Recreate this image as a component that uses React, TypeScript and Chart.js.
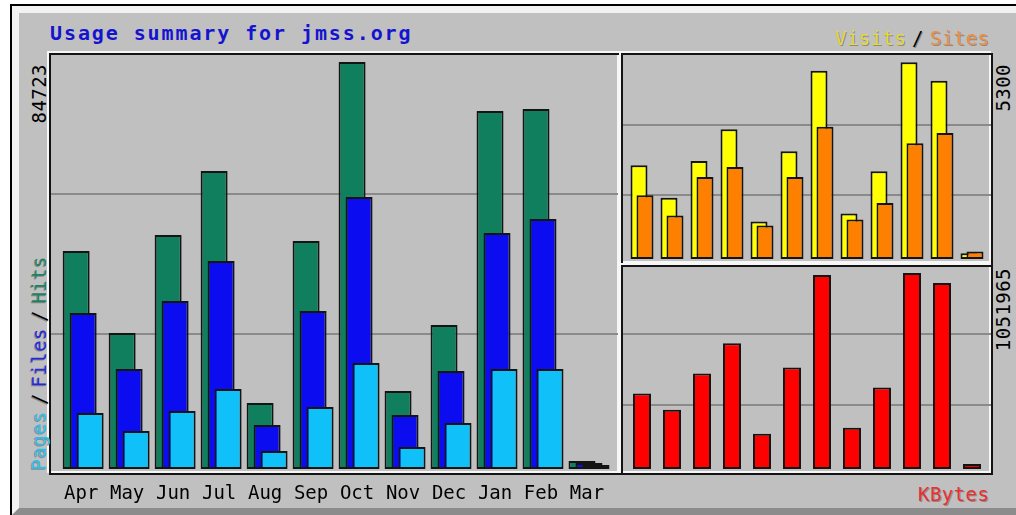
import React, { useEffect, useRef } from "react";
import { Chart, registerables } from "chart.js";
Chart.register(...registerables);

const MONTHS = ["Apr", "May", "Jun", "Jul", "Aug", "Sep", "Oct", "Nov", "Dec", "Jan", "Feb", "Mar"];
const HITS = [45480, 28450, 48800, 62090, 13910, 47550, 84723, 16400, 30110, 74550, 74960, 1870];
const FILES = [32600, 20970, 35090, 43400, 9350, 33020, 56690, 11420, 20560, 49220, 52120, 1450];
const PAGES = [11840, 8100, 12250, 16820, 3950, 13080, 22220, 4780, 9760, 20970, 20970, 1040];
const VISITS = [2540, 1672, 2656, 3508, 1035, 2916, 5075, 1250, 2379, 5300, 4806, 183];
const SITES = [1734, 1196, 2226, 2494, 927, 2226, 3570, 1089, 1527, 3132, 3408, 228];
const KBYTES = [407900, 322000, 515240, 676250, 193200, 547440, 1041230, 225420, 440100, 1051965, 998280, 32200];

const TITLE = "Usage summary for jmss.org";
const HITS_MAX_LABEL = "84723";
const VISITS_MAX_LABEL = "5300";
const KBYTES_MAX_LABEL = "1051965";

const LEFT_MAX = 86177;
const TOP_MAX = 5496;
const BOTTOM_MAX = 1084000;

const MONO = "'DejaVu Sans Mono', monospace";
const GRID = "#8a8a8a";
const EDGE = "#141414";
const SHADOW = "#8a8a8a";

function yScale(max: number, gridFractions: number[]) {
  return {
    type: "linear",
    min: 0,
    max,
    afterBuildTicks: (s: any) => {
      s.ticks = [0, ...gridFractions, 1].map((f) => ({ value: max * f }));
    },
    ticks: { display: false },
    grid: {
      drawTicks: false,
      lineWidth: 2,
      color: (c: any) =>
        c.index === 0 || c.index === gridFractions.length + 1 ? "rgba(0,0,0,0)" : GRID,
    },
    border: { display: false },
    afterFit: (s: any) => {
      s.width = 0;
    },
  };
}

function bars(values: number[], shift: number, color: string, thickness: number) {
  return {
    data: values.map((v, i) => ({ x: i + shift, y: v })),
    backgroundColor: color,
    borderColor: EDGE,
    borderWidth: 2,
    borderSkipped: false,
    barThickness: thickness,
    grouped: false,
    inflateAmount: 0,
  };
}

const baseOptions = {
  responsive: false,
  animation: false,
  events: [],
  layout: { padding: 0 },
  plugins: { legend: { display: false }, tooltip: { enabled: false }, title: { display: false } },
};

const leftConfig = () => ({
  type: "bar",
  data: {
    datasets: [
      bars(PAGES, 14 / 46, "#10c0f8", 27),
      bars(FILES, 7 / 46, "#0c0cf0", 27),
      bars(HITS, 0, "#107f5d", 27),
    ],
  },
  options: {
    ...baseOptions,
    scales: {
      x: {
        type: "linear",
        min: -25 / 46,
        max: -25 / 46 + 567 / 46,
        offset: false,
        grid: { display: false, drawTicks: false },
        border: { display: false },
        afterBuildTicks: (s: any) => {
          s.ticks = MONTHS.map((_, i) => ({ value: i + 5 / 46 }));
        },
        ticks: {
          autoSkip: false,
          maxRotation: 0,
          minRotation: 0,
          color: "#000",
          padding: 13,
          font: { family: MONO, size: 19 },
          callback: (_v: any, i: number) => MONTHS[i],
        },
        afterFit: (s: any) => {
          s.height = 38;
        },
      },
      y: yScale(LEFT_MAX, [0.3277, 0.665]),
    },
  },
});

const rightX = {
  type: "linear",
  display: false,
  min: -16 / 30,
  max: -16 / 30 + 368 / 30,
  offset: false,
};

const topConfig = () => ({
  type: "bar",
  data: {
    datasets: [bars(SITES, 6 / 30, "#ff8000", 17), bars(VISITS, 0, "#ffff00", 17)],
  },
  options: { ...baseOptions, scales: { x: rightX, y: yScale(TOP_MAX, [0.317, 0.6585]) } },
});

const bottomConfig = () => ({
  type: "bar",
  data: { datasets: [bars(KBYTES, 3 / 30, "#ff0000", 18)] },
  options: { ...baseOptions, scales: { x: rightX, y: yScale(BOTTOM_MAX, [0.32, 0.67]) } },
});

function ChartCanvas({ left, top, width, height, make }: any) {
  const ref = useRef<HTMLCanvasElement>(null);
  useEffect(() => {
    const chart = new Chart(ref.current as HTMLCanvasElement, make());
    return () => chart.destroy();
  }, []);
  return (
    <canvas
      ref={ref}
      width={width}
      height={height}
      style={{ position: "absolute", left, top, width, height }}
    />
  );
}

function Box({ x1, y1, x2, y2 }: any) {
  return (
    <>
      <div
        style={{
          position: "absolute",
          left: x1 - 2,
          top: y1 - 2,
          width: x2 - x1,
          height: y2 - y1,
          border: "2px solid #f6f6f6",
          boxSizing: "border-box",
        }}
      />
      <div
        style={{
          position: "absolute",
          left: x1,
          top: y1,
          width: x2 - x1,
          height: y2 - y1,
          border: `2px solid ${EDGE}`,
          boxSizing: "border-box",
        }}
      />
    </>
  );
}

const textBase: any = {
  position: "absolute",
  fontFamily: MONO,
  fontSize: 19,
  lineHeight: "19px",
  letterSpacing: "0.45px",
  whiteSpace: "nowrap",
  textShadow: `1px 1px 0 ${SHADOW}`,
};

const vertical: any = {
  ...textBase,
  writingMode: "vertical-rl",
  transform: "rotate(180deg)",
  textShadow: `-1px -1px 0 ${SHADOW}`,
};

const plainVertical: any = { ...vertical, textShadow: "none" };

export default function App() {
  return (
    <div
      style={{
        position: "absolute",
        left: 0,
        top: 0,
        width: 1016,
        height: 515,
        overflow: "hidden",
        background: "#ffffff",
      }}
    >
      <div
        style={{
          position: "absolute",
          left: 10,
          top: 4,
          width: 1100,
          height: 600,
          borderTop: "2px solid #000",
          borderLeft: "2px solid #000",
          background: "#c0c0c0",
        }}
      />
      <div
        style={{
          position: "absolute",
          left: 12,
          top: 6,
          width: 1100,
          height: 509,
          boxSizing: "border-box",
          borderTop: "7px solid #f2f2f2",
          borderLeft: "7px solid #f2f2f2",
          borderBottom: "7px solid #8c8c8c",
        }}
      />

      <Box x1={49} y1={53} x2={621} y2={475} />
      <Box x1={621} y1={53} x2={993} y2={265} />
      <Box x1={621} y1={265} x2={993} y2={475} />

      <ChartCanvas left={51} top={55} width={567} height={453} make={leftConfig} />
      <ChartCanvas left={623} top={55} width={368} height={205} make={topConfig} />
      <ChartCanvas left={623} top={267} width={368} height={203} make={bottomConfig} />

      <div
        style={{
          ...textBase,
          left: 50,
          top: 23,
          fontSize: 20,
          lineHeight: "20px",
          fontWeight: "bold",
          letterSpacing: "1.9px",
          color: "#1414d0",
          textShadow: "none",
        }}
      >
        {TITLE}
      </div>

      <div style={{ ...textBase, left: 835, top: 29, color: "#e4d83c" }}>Visits</div>
      <div style={{ ...textBase, left: 912, top: 29, color: "#000" }}>/</div>
      <div style={{ ...textBase, left: 930, top: 29, color: "#ec9044" }}>Sites</div>

      <div style={{ ...textBase, left: 918, top: 485, color: "#e83030" }}>KBytes</div>

      <div style={{ ...plainVertical, left: 30, top: 64, color: "#000" }}>{HITS_MAX_LABEL}</div>

      <div style={{ ...vertical, left: 30, bottom: 515 - 470, color: "#30bce8" }}>Pages</div>
      <div style={{ ...vertical, left: 30, bottom: 515 - 405, color: "#000" }}>/</div>
      <div style={{ ...vertical, left: 30, bottom: 515 - 387, color: "#2828d8" }}>Files</div>
      <div style={{ ...vertical, left: 30, bottom: 515 - 322, color: "#000" }}>/</div>
      <div style={{ ...vertical, left: 30, bottom: 515 - 304, color: "#1c8262" }}>Hits</div>

      <div style={{ ...plainVertical, left: 994, top: 64, color: "#000" }}>{VISITS_MAX_LABEL}</div>
      <div style={{ ...plainVertical, left: 994, top: 268, color: "#000" }}>{KBYTES_MAX_LABEL}</div>
    </div>
  );
}
